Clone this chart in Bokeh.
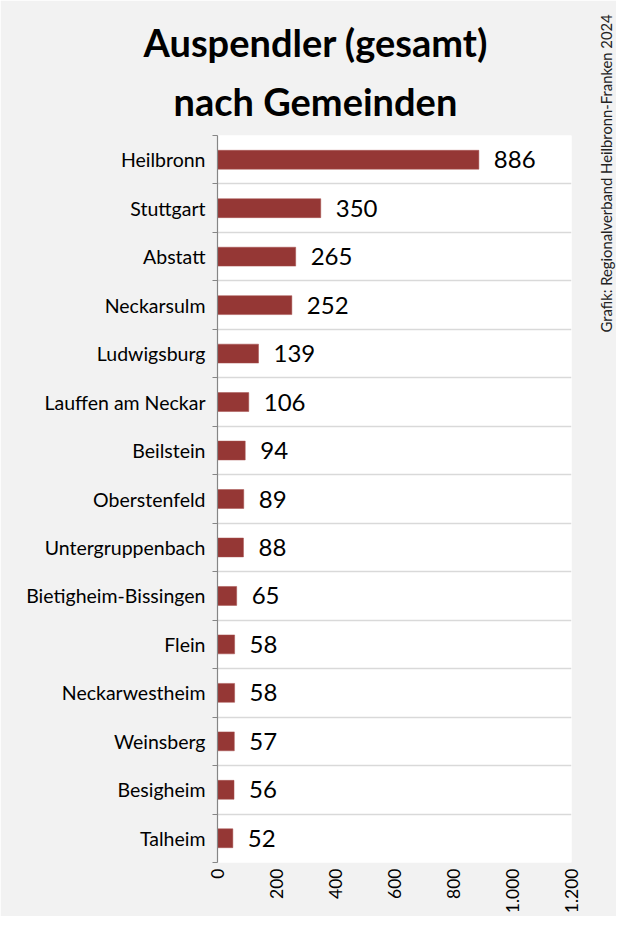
import numpy as np
from bokeh.plotting import figure
from bokeh.models import FixedTicker, Label, ColumnDataSource, Range1d, Title
from bokeh.core.properties import value
from bokeh.embed import file_html
from bokeh.resources import INLINE

# ---- data ----
gemeinden = ["Heilbronn", "Stuttgart", "Abstatt", "Neckarsulm", "Ludwigsburg",
             "Lauffen am Neckar", "Beilstein", "Oberstenfeld", "Untergruppenbach",
             "Bietigheim-Bissingen", "Flein", "Neckarwestheim", "Weinsberg",
             "Besigheim", "Talheim"]
auspendler = [886, 350, 265, 252, 139, 106, 94, 89, 88, 65, 58, 58, 57, 56, 52]
x_ticks = [0, 200, 400, 600, 800, 1000, 1200]
x_tick_labels = ["0", "200", "400", "600", "800", "1.000", "1.200"]
title_lines = ["Auspendler (gesamt)", "nach Gemeinden"]
source_text = "Grafik: Regionalverband Heilbronn-Franken 2024"

FONT = "Lato"
n = len(gemeinden)
ypos = [n - i - 0.5 for i in range(n)]
boundaries = list(range(n + 1))

src = ColumnDataSource(dict(y=ypos, v=auspendler, lab=[str(v) for v in auspendler]))

W, H = 616, 916
FRAME_BOTTOM = 862
p = figure(width=W, height=H, output_backend="svg", toolbar_location=None,
           x_range=Range1d(0, 1200), y_range=Range1d(0, n),
           min_border_left=217, min_border_right=W - 571, min_border_top=135,
           min_border_bottom=H - FRAME_BOTTOM)
p.background_fill_color = "white"
p.border_fill_color = "#f2f2f2"
p.outline_line_color = None

p.hbar(y="y", right="v", left=0, height=0.39, source=src,
       fill_color="#953735", line_color="#a6504e", line_width=0.5)
p.text(x="v", y="y", text="lab", source=src, x_offset=15,
       text_baseline="middle", text_align="left",
       text_font=value(FONT), text_font_size="24px", text_color="black")

# y axis: labels at centers, ticks at boundaries
yax = p.yaxis[0]
yax.ticker = FixedTicker(ticks=ypos, minor_ticks=boundaries)
yax.major_label_overrides = {y: g for y, g in zip(ypos, gemeinden)}
yax.major_tick_out = 0
yax.major_tick_in = 0
yax.minor_tick_out = 5
yax.minor_tick_in = 0
yax.minor_tick_line_color = "#868686"
yax.axis_line_color = "#868686"
yax.axis_line_width = 1.2
yax.major_label_text_font = FONT
yax.major_label_text_font_size = "19.5px"
yax.major_label_text_color = "black"
yax.major_label_standoff = 7

p.ygrid.grid_line_color = None
p.ygrid.minor_grid_line_color = "#d9d9d9"
p.ygrid.minor_grid_line_width = 1.5
p.xgrid.grid_line_color = None

xax = p.xaxis[0]
xax.ticker = FixedTicker(ticks=x_ticks)
xax.major_label_overrides = {t: l for t, l in zip(x_ticks, x_tick_labels)}
xax.axis_line_color = None
xax.major_tick_line_color = None
xax.minor_tick_line_color = None
xax.major_tick_out = 0
xax.major_tick_in = 0
xax.major_label_orientation = np.pi / 2
xax.major_label_text_font = FONT
xax.major_label_text_font_size = "17.5px"
xax.major_label_text_color = "black"
xax.major_label_standoff = 6

# title: two lines, nearest to frame first
t2 = Title(text=title_lines[1], align="left", offset=-44, standoff=23,
           text_font=FONT, text_font_style="bold", text_font_size="38px", text_color="black")
t1 = Title(text=title_lines[0], align="left", offset=-74, standoff=0,
           text_font=FONT, text_font_style="bold", text_font_size="38px", text_color="black")
p.add_layout(t2, "above")
p.add_layout(t1, "above")

# source on the right side
p.add_layout(Label(x=34, y=FRAME_BOTTOM - 332, x_units="screen", y_units="screen",
                   text=source_text, angle=np.pi / 2, text_align="left",
                   text_baseline="middle", text_font=FONT, text_font_size="14.8px",
                   text_color="#222222"), "right")

open("out.html", "w").write(file_html(p, INLINE))
